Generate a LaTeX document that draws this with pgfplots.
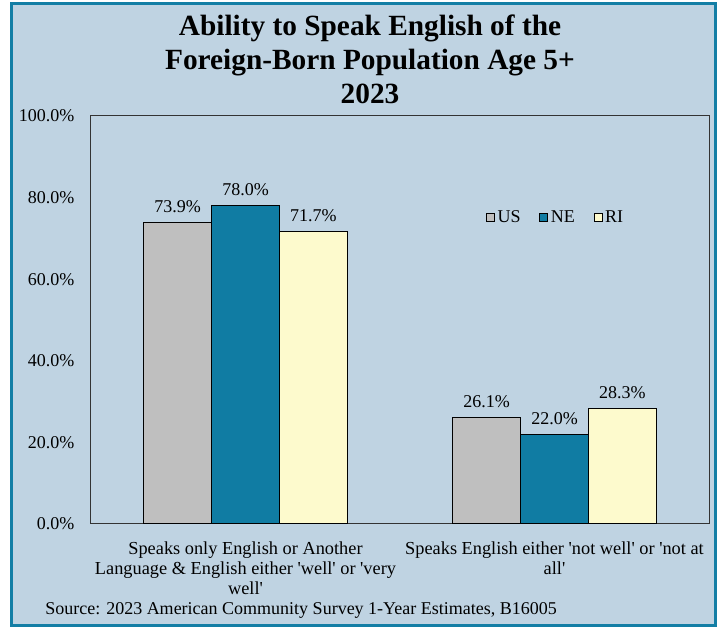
\documentclass[border=0pt]{standalone}
\usepackage{pgfplots}
\pgfplotsset{compat=1.18}
\usepackage{fontspec}
\setmainfont{Liberation Serif}
\definecolor{bg}{RGB}{191,211,226}
\definecolor{frame}{RGB}{19,126,165}
\definecolor{cUS}{RGB}{191,191,191}
\definecolor{cNE}{RGB}{16,124,163}
\definecolor{cRI}{RGB}{253,250,205}
\newcommand{\q}{\textquotesingle}
\begin{document}
\begin{tikzpicture}[x=1pt,y=1pt]
\useasboundingbox (-68.25,-77.25) rectangle (471.75,393);
\fill[white] (-68.25,-77.25) rectangle (471.75,393);
\fill[bg] (-59.6,-76.1) rectangle (468.4,390);
\draw[frame, line width=2.25pt] (-59.6,-76.1) rectangle (468.4,390);
\begin{axis}[
  at={(0,0)}, anchor=south west,
  scale only axis, width=463.5pt, height=306pt,
  xmin=-0.5, xmax=1.5, ymin=0, ymax=100,
  ybar, bar width=0.22,
  axis line style={draw=black!80, line width=0.75pt},
  tick style={draw=none}, major tick length=0pt,
  xtick={0,1},
  xticklabels={{Speaks only English or Another\\Language \& English either \q well\q{} or \q very\\well\q},{Speaks English either \q not well\q{} or \q not at\\all\q}},
  xticklabel style={align=center, font=\fontsize{13.75}{15}\selectfont, yshift=-10pt},
  ytick={0,20,40,60,80,100},
  yticklabels={0.0\%,20.0\%,40.0\%,60.0\%,80.0\%,100.0\%},
  yticklabel style={font=\fontsize{13.5}{16}\selectfont, xshift=-9pt},
  /pgf/number format/assume math mode=true,
  nodes near coords={\pgfmathprintnumber[fixed,fixed zerofill,precision=1]{\pgfplotspointmeta}\%},
  every node near coord/.append style={font=\fontsize{13.5}{16}\selectfont, text=black, yshift=3.5pt},
  legend style={draw=none, fill=none, at={(0.632,0.752)}, anchor=west, legend columns=3,
    font=\fontsize{13.5}{16}\selectfont,
    /tikz/every even column/.append style={column sep=12pt}},
  legend image code/.code={\draw[#1,draw=black,line width=0.75pt] (0pt,-3pt) rectangle (6pt,3pt);},
]
\addplot[fill=cUS, draw=black, line width=0.75pt, bar shift=-0.22] coordinates {(0,73.9) (1,26.1)};
\addplot[fill=cNE, draw=black, line width=0.75pt, bar shift=0] coordinates {(0,78.0) (1,22.0)};
\addplot[fill=cRI, draw=black, line width=0.75pt, bar shift=0.22] coordinates {(0,71.7) (1,28.3)};
\legend{US,NE,RI}
\end{axis}
\begin{scope}[every node/.style={font=\fontsize{22}{26}\selectfont\bfseries, anchor=base, inner sep=0}]
\node at (209.25,366) {Ability to Speak English of the};
\node at (209.25,340.5) {Foreign-Born Population Age 5+};
\node at (209.25,315) {2023};
\end{scope}
\node[anchor=base west, inner sep=0, font=\fontsize{13.5}{16}\selectfont] at (-34.5,-67.5) {Source: 2023 American Community Survey 1-Year Estimates, B16005};
\end{tikzpicture}
\end{document}
